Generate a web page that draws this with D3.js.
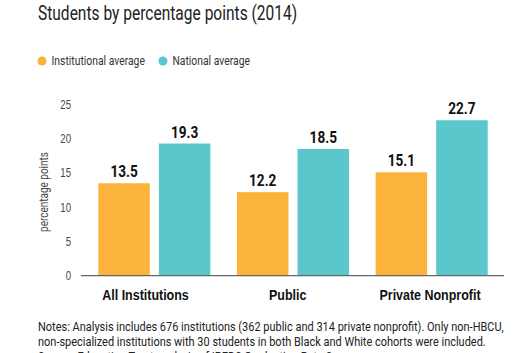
<!DOCTYPE html>
<html>
<head>
<meta charset="utf-8">
<script src="https://cdn.jsdelivr.net/npm/d3@7"></script>
<style>
  body { margin: 0; background: #fff; }
  svg { font-family: Roboto, "Liberation Sans", sans-serif; }
</style>
</head>
<body>
<div id="chart"></div>
<script>
'use strict';

const categories = ['All Institutions', 'Public', 'Private Nonprofit'];
const seriesNames = ['Institutional average', 'National average'];
const institutional = [13.5, 12.2, 15.1];
const national = [19.3, 18.5, 22.7];
const yTicks = [0, 5, 10, 15, 20, 25];
const notes = [
  'Notes: Analysis includes 676 institutions (362 public and 314 private nonprofit). Only non-HBCU,',
  'non-specialized institutions with 30 students in both Black and White cohorts were included.',
  'Source: Education Trust analysis of IPEDS Graduation Rate Survey'
];

const colors = ['#fbb33b', '#5bc6cb'];
const W = 529, H = 353;
const K = 0.8; // squeeze text, the original uses a condensed face

const svg = d3.select('#chart').append('svg')
    .attr('width', W)
    .attr('height', H);

// text placed at (x, y) and squeezed horizontally
function label(parent, x, y, str, k = K) {
  return parent.append('text')
      .attr('transform', `translate(${x}, ${y}) scale(${k}, 1)`)
      .text(str);
}

label(svg, 38, 20, 'Students by percentage points (2014)', 0.74)
    .attr('font-size', 21)
    .attr('fill', '#222');

// legend
const legend = svg.append('g').attr('transform', 'translate(42, 61)');
let lx = 0;
seriesNames.forEach((name, i) => {
  const g = legend.append('g').attr('transform', `translate(${lx}, 0)`);
  g.append('circle').attr('r', 4.5).attr('fill', colors[i]);
  const t = label(g, 9.5, 0, name, 0.83)
      .attr('dy', '0.35em')
      .attr('font-size', 12.5)
      .attr('fill', '#333');
  lx += 9.5 + t.node().getComputedTextLength() * 0.83 + 18;
});

const y = d3.scaleLinear()
    .domain([0, 25])
    .range([275.7, 104.5]);

const x0 = d3.scaleBand()
    .domain(categories)
    .range([85, 501])
    .paddingInner(0.192)
    .paddingOuter(0.096);

// category names sit a little left of their bar pairs
const xLab = d3.scalePoint()
    .domain(categories)
    .range([145, 429.5]);

const x1 = d3.scaleBand()
    .domain([0, 1])
    .range([0, x0.bandwidth()])
    .paddingInner(0.15);

const yAxis = d3.axisLeft(y)
    .tickValues(yTicks)
    .tickSize(0)
    .tickPadding(0);

const ya = svg.append('g')
    .attr('transform', 'translate(71, 0)')
    .call(yAxis);
ya.select('.domain').remove();
ya.selectAll('text')
    .attr('transform', `scale(${K}, 1)`)
    .attr('font-size', 12)
    .attr('fill', '#444')
    .attr('font-family', null);

svg.append('text')
    .attr('transform', `translate(48, 192) rotate(-90) scale(${K}, 1)`)
    .attr('text-anchor', 'middle')
    .attr('font-size', 12.5)
    .attr('fill', '#444')
    .text('percentage points');

const rows = categories.map((c, i) => ({ cat: c, vals: [institutional[i], national[i]] }));

const groups = svg.selectAll('.group')
    .data(rows)
  .enter().append('g')
    .attr('class', 'group')
    .attr('transform', d => `translate(${x0(d.cat)}, 0)`);

groups.selectAll('rect')
    .data(d => d.vals)
  .enter().append('rect')
    .attr('x', (d, i) => x1(i))
    .attr('width', x1.bandwidth())
    .attr('y', d => y(d))
    .attr('height', d => y(0) - y(d))
    .attr('fill', (d, i) => colors[i]);

groups.selectAll('.val')
    .data(d => d.vals)
  .enter().append('text')
    .attr('class', 'val')
    .attr('transform', (d, i) => `translate(${x1(i) + x1.bandwidth() / 2}, ${y(d) - 6}) scale(${K}, 1)`)
    .attr('text-anchor', 'middle')
    .attr('font-size', 17)
    .attr('font-weight', 'bold')
    .attr('fill', '#111')
    .text(d => d3.format('.1f')(d));

const xAxis = d3.axisBottom(xLab).tickSize(0).tickPadding(0);
const xa = svg.append('g')
    .attr('transform', `translate(0, ${y(0)})`)
    .call(xAxis);
xa.select('.domain').remove();
xa.selectAll('text')
    .attr('dy', null)
    .attr('y', null)
    .attr('transform', 'translate(0, 24) scale(0.89, 1)')
    .attr('font-size', 14)
    .attr('font-weight', 'bold')
    .attr('fill', '#111')
    .attr('font-family', null);

svg.append('line')
    .attr('x1', 81)
    .attr('x2', 504)
    .attr('y1', y(0))
    .attr('y2', y(0))
    .attr('stroke', '#666')
    .attr('stroke-width', 1.2);

const noteG = svg.append('g');
notes.forEach((line, i) => {
  label(noteG, 38, 330.5 + i * 15.2, line, 0.865)
      .attr('font-size', 12.7)
      .attr('fill', '#222');
});
</script>
</body>
</html>
